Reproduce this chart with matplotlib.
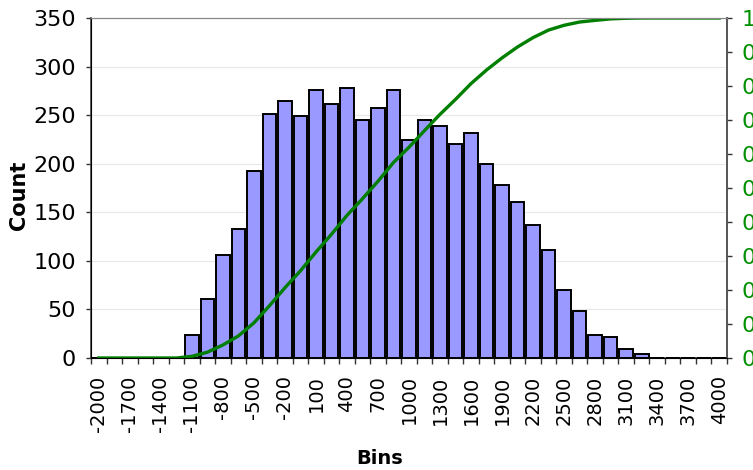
import numpy as np
import matplotlib
matplotlib.use("Agg")
import matplotlib.pyplot as plt
from matplotlib.ticker import FixedLocator

# bins from -2000 to 4000, step 150
bins = list(range(-2000, 4001, 150))
counts = [0, 0, 0, 0, 0, 0,
          24, 61, 106, 133, 192, 251, 265, 249, 276, 261, 278, 245, 257, 276,
          224, 245, 239, 220, 232, 200, 178, 161, 137, 111, 70, 48, 24, 22, 9, 4,
          0, 0, 0, 0, 0]
cum_frac = np.cumsum(counts) / np.sum(counts)  # cumulative share, right axis

plt.rcParams['font.family'] = ['DejaVu Sans']

fig = plt.figure(figsize=(7.53, 4.70), dpi=100)
ax = fig.add_axes([91/753, 1 - 358/470, 636/753, 340/470])

x = np.arange(len(bins))
ax.bar(x, counts, width=0.88, color='#9999ff', edgecolor='black', linewidth=1.4, zorder=3)

ax.set_xlim(-0.5, len(bins) - 0.5)
ax.set_ylim(0, 350)
ax.set_yticks(range(0, 351, 50))
ax.grid(axis='y', color='#e8e8e8', linewidth=0.9, zorder=0)
ax.set_axisbelow(True)

ax.set_xticks(x[::2])
ax.set_xticklabels([str(b) for b in bins[::2]], rotation=90, fontsize=14)
ax.xaxis.set_minor_locator(FixedLocator(np.arange(-0.5, len(bins), 1)))
ax.tick_params(axis='x', which='major', length=0, pad=12.5)
ax.tick_params(axis='x', which='minor', length=4.5, width=1, color='#333333')
ax.tick_params(axis='y', length=3.8, width=1, color='#333333', labelsize=16, pad=7)

for s in ['left', 'bottom']:
    ax.spines[s].set_color('#444444')
    ax.spines[s].set_linewidth(1.2)
ax.spines['top'].set_color('#888888')
ax.spines['right'].set_color('#555555')
ax.spines['right'].set_linewidth(1.2)

ax2 = ax.twinx()
ax2.plot(x, cum_frac, color='#007f00', linewidth=2.4)
ax2.set_ylim(0, 1)
ax2.set_yticks(np.arange(0, 1.01, 0.1))
ax2.set_yticklabels(['%g' % round(v, 1) for v in np.arange(0, 1.01, 0.1)])
ax2.tick_params(axis='y', length=3.8, width=1, color='#333333', labelsize=16,
                labelcolor='#009000', pad=7)
ax2.spines['right'].set_color('#555555')
ax2.spines['right'].set_linewidth(1.2)
ax2.spines['top'].set_color('#888888')

fig.text(19/753, 1 - 195/470, 'Count', rotation=90, fontsize=15, fontweight='bold',
         ha='center', va='center')
fig.text(380/753, 1 - 459/470, 'Bins', fontsize=14, fontweight='bold',
         ha='center', va='center')

fig.savefig('out.png', dpi=100)
